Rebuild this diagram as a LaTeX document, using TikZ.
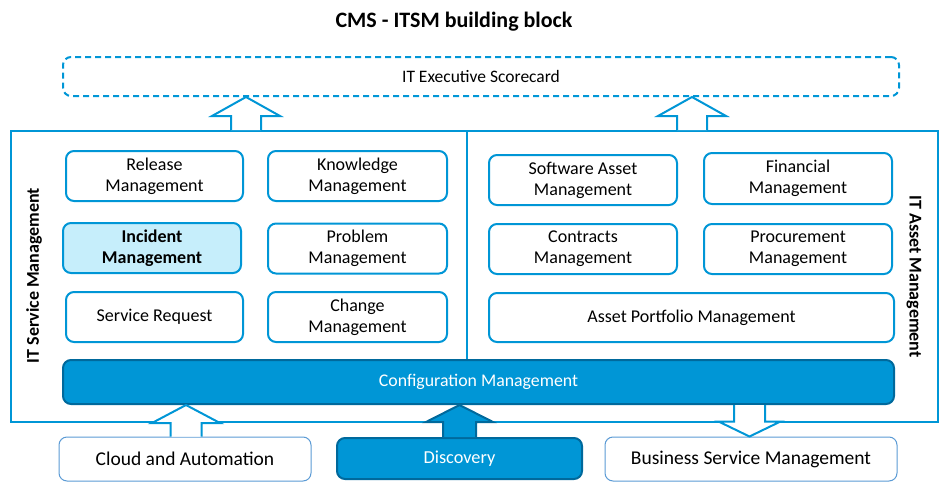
\documentclass[tikz,border=0pt]{standalone}
\usepackage{fontspec}
\setmainfont{Carlito}
\usetikzlibrary{calc}
\definecolor{hpblue}{HTML}{0096D6}
\definecolor{hpdark}{HTML}{00699C}
\definecolor{incfill}{HTML}{C6EEFB}
\definecolor{thinblue}{HTML}{5B9BD5}
\newcommand\blockarrow[7]{% #1 fill #2 draw #3 base #4 tip #5 half shaft #6 half head #7 head length
 \fill[#1] let \p1=(#3), \p2=(#4), \p3=($(#4)!#7!(#3)$) in
 (\x2-#5,\y1) -- (\x2-#5,\y3) -- (\x2-#6,\y3) -- (\x2,\y2) -- (\x2+#6,\y3) -- (\x2+#5,\y3) -- (\x2+#5,\y1) -- cycle;
 \draw[#2] let \p1=(#3), \p2=(#4), \p3=($(#4)!#7!(#3)$) in
 (\x2-#5,\y1) -- (\x2-#5,\y3) -- (\x2-#6,\y3) -- (\x2,\y2) -- (\x2+#6,\y3) -- (\x2+#5,\y3) -- (\x2+#5,\y1);}
\begin{document}
\begin{tikzpicture}[x=1pt,y=-1pt,
  mbox/.style={draw=hpblue,line width=2pt,rounded corners=8pt,fill=white,align=center,
    font=\fontsize{18}{21}\selectfont,inner sep=0pt},
  sidelabel/.style={font=\fontsize{18}{21}\selectfont\bfseries},
  bluebox/.style={draw=hpdark,line width=2pt,rounded corners=8pt,fill=hpblue,text=white,
    font=\fontsize{17.8}{21}\selectfont,inner sep=0pt},
  thinbox/.style={draw=thinblue,line width=1pt,rounded corners=8pt,fill=white,
    font=\fontsize{19.5}{22}\selectfont,inner sep=0pt},
  arrline/.style={draw=hpblue,line width=2pt,line join=miter}
]
\useasboundingbox (0,0) rectangle (951,498);
\node[font=\fontsize{22}{26}\selectfont\bfseries] (title) at (454,22) {CMS - ITSM building block};
\node[draw=hpblue,line width=2pt,dash pattern=on 6pt off 4pt,rounded corners=8pt,
  minimum width=836pt,minimum height=39pt,inner sep=0pt,font=\fontsize{17.5}{21}\selectfont] (dash) at (481,76.5) {IT Executive Scorecard};
\node[draw=hpblue,line width=2pt,minimum width=927pt,minimum height=291pt,inner sep=0pt] (outer) at (474.5,276.5) {};
\coordinate (xdiv) at (467,0);
\node[bluebox,minimum width=831pt,minimum height=44pt] (cfg) at (478.5,382) {Configuration Management};
\draw[hpblue,line width=2pt] (outer.north -| xdiv) -- (cfg.north -| xdiv);
% left column
\node[mbox,minimum width=177pt,minimum height=50pt] (rel) at (154.5,176) {Release\\Management};
\node[mbox,minimum width=179pt,minimum height=50pt] (kno) at (357.5,176) {Knowledge\\Management};
\node[mbox,fill=incfill,minimum width=178pt,minimum height=50pt,font=\fontsize{18}{21}\selectfont\bfseries] (inc) at (152,248) {Incident\\Management};
\node[mbox,minimum width=179pt,minimum height=50pt] (pro) at (357.5,248.5) {Problem\\Management};
\node[mbox,minimum width=177pt,minimum height=50pt] (srq) at (154.5,317) {Service Request};
\node[mbox,minimum width=179pt,minimum height=50pt] (chg) at (357.5,317) {Change\\Management};
% right column
\node[mbox,minimum width=188pt,minimum height=50pt] (swa) at (583,180) {Software Asset\\Management};
\node[mbox,minimum width=188pt,minimum height=51pt] (fin) at (798,178.5) {Financial\\Management};
\node[mbox,minimum width=188pt,minimum height=50pt] (con) at (583,249) {Contracts\\Management};
\node[mbox,minimum width=188pt,minimum height=50pt] (prc) at (798,249) {Procurement\\Management};
\node[mbox,minimum width=405pt,minimum height=49pt] (apm) at (691.5,317.5) {Asset Portfolio Management};
% side labels
\node[sidelabel,rotate=90] (itsm) at (34,275.5) {IT Service Management};
\node[sidelabel,rotate=-90] (itam) at (914,276.5) {IT Asset Management};
% bottom boxes
\node[thinbox,minimum width=252pt,minimum height=44pt] (cloud) at (185,459) {Cloud and Automation};
\node[bluebox,minimum width=245pt,minimum height=41pt,font=\fontsize{18.3}{21}\selectfont] (disc) at (459.5,458.5) {Discovery};
\node[thinbox,minimum width=292pt,minimum height=44pt] (bsm) at (751,459) {Business Service Management};
% arrows
\coordinate (xa) at (246,0);
\coordinate (xb) at (692,0);
\coordinate (xc) at (186,0);
\coordinate (xd) at (459.5,0);
\coordinate (xe) at (749.5,0);
\blockarrow{white}{arrline}{outer.north -| xa}{dash.south -| xa}{15pt}{34pt}{19pt}
\blockarrow{white}{arrline}{outer.north -| xb}{dash.south -| xb}{15pt}{34pt}{19pt}
\blockarrow{white}{arrline}{cloud.north -| xc}{cfg.south -| xc}{15.5pt}{34pt}{18pt}
\blockarrow{hpblue}{draw=hpdark,line width=2pt,line join=miter}{disc.north -| xd}{cfg.south -| xd}{16.5pt}{33.5pt}{17pt}
\blockarrow{white}{arrline}{cfg.south -| xe}{bsm.north -| xe}{15.5pt}{31pt}{15pt}
\end{tikzpicture}
\end{document}
